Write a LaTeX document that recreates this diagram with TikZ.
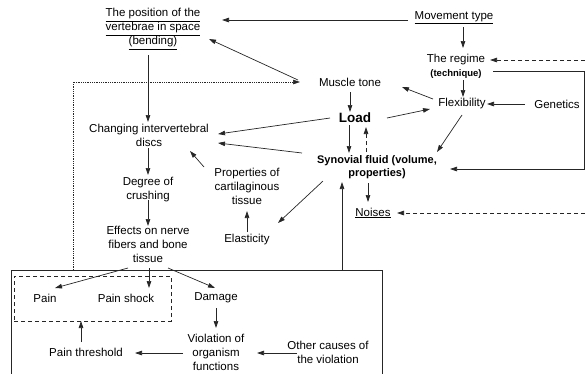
\documentclass[tikz,border=0pt]{standalone}
\usepackage{fontspec}
\setmainfont{Liberation Sans}
\usetikzlibrary{arrows.meta}
\begin{document}
\begin{tikzpicture}[x=1pt,y=-1pt,
  lbl/.style={inner sep=0pt, align=center, font=\fontsize{11.5}{14}\selectfont},
  bold/.style={inner sep=0pt, align=center, font=\fontsize{11}{13.5}\selectfont\bfseries},
  arr/.style={line width=0.7pt, draw=black!85, -{Triangle[length=7pt,width=4.5pt]}},
  ln/.style={line width=0.7pt, draw=black!85},
  dsh/.style={arr, dash pattern=on 4pt off 3pt},
  dot/.style={arr, dash pattern=on 0.8pt off 1pt, line width=0.6pt}]
\useasboundingbox (0,0) rectangle (585,373);
% nodes
\node[lbl] (pos) at (153,29) {\underline{The position of the}\\\underline{vertebrae in space}\\\underline{(bending)}};
\node[lbl] (mov) at (454,18) {\underline{Movement type}};
\node[lbl] (reg) at (456,66) {The regime\\{\fontsize{9.5}{11}\selectfont\bfseries (technique)}};
\node[lbl] (flex) at (462,104) {Flexibility};
\node[lbl] (gen) at (557,104) {Genetics};
\node[lbl] (mt) at (350,82) {Muscle tone};
\node[inner sep=0pt, font=\fontsize{13.5}{15}\selectfont\bfseries] (load) at (355,118) {Load};
\node[bold] (syn) at (377,167) {Synovial fluid (volume,\\properties)};
\node[lbl] (chg) at (149,135) {Changing intervertebral\\discs};
\node[lbl] (deg) at (148,190) {Degree of\\crushing};
\node[lbl] (eff) at (148,244) {Effects on nerve\\fibers and bone\\tissue};
\node[lbl] (prop) at (247,186) {Properties of\\cartilaginous\\tissue};
\node[lbl] (ela) at (247,240) {Elasticity};
\node[lbl] (noi) at (373,213) {\underline{Noises}};
\node[lbl] (pain) at (45,298) {Pain};
\node[lbl] (ps) at (126,298) {Pain shock};
\node[lbl] (dam) at (216,298) {Damage};
\node[lbl] (vio) at (216,352) {Violation of\\organism\\functions};
\node[lbl] (pt) at (86,352) {Pain threshold};
\node[lbl] (oth) at (328,352) {Other causes of\\the violation};
\node[draw=black!85, line width=0.7pt, dash pattern=on 4pt off 3pt, minimum width=157pt, minimum height=45pt, inner sep=0pt] (pbox) at (92.5,298.5) {};
% free ends
\coordinate (boxtl) at (11,270);
\coordinate (boxtr) at (382,270);
\coordinate (boxup) at (342,270);
\coordinate (boxdot) at (73,270);
\coordinate (rinreg) at (585,60);
\coordinate (rinnoi) at (585,213);
% big box
\draw[ln] (11,380) -- (boxtl) -- (boxtr) -- (382,380);
% connectors
\draw[arr] ([shift={(-46,2)}]mov.center) -- ([shift={(69,-9)}]pos.center);
\draw[arr] ([shift={(9,9)}]mov.center) -- ([shift={(7,-18)}]reg.center);
\draw[arr] ([shift={(7,14)}]reg.center) -- ([shift={(1,-7)}]flex.center);
\draw[arr] ([shift={(-32,0)}]gen.center) -- ([shift={(25,0)}]flex.center);
\draw[arr] ([shift={(-29,-5)}]flex.center) -- ([shift={(52,5)}]mt.center);
\draw[arr] ([shift={(32,0)}]load.center) -- ([shift={(-32,5)}]flex.center);
\draw[arr] ([shift={(0,10)}]mt.center) -- ([shift={(-5,-6)}]load.center);
\draw[arr] ([shift={(0,11)}]flex.center) -- ([shift={(60,-15)}]syn.center);
\draw[arr] ([shift={(37,5)}]reg.center) -- ([shift={(128,5)}]reg.center) |- ([shift={(73,2)}]syn.center);
\draw[dsh] (rinreg) -- ([shift={(34,-6)}]reg.center);
\draw[dsh] (rinnoi) -- ([shift={(24,0)}]noi.center);
\draw[arr] ([shift={(-6,7)}]load.center) -- ([shift={(-28,-14)}]syn.center);
\draw[dsh] ([shift={(-11,-15)}]syn.center) -- ([shift={(11,9)}]load.center);
\draw[arr] ([shift={(-9,16)}]syn.center) -- ([shift={(-5,-11)}]noi.center);
\draw[arr] (boxup) -- ([shift={(-35,15)}]syn.center);
\draw[arr] ([shift={(-54,14)}]syn.center) -- ([shift={(31,-17)}]ela.center);
\draw[arr] ([shift={(0,-8)}]ela.center) -- ([shift={(0,25)}]prop.center);
\draw[arr] ([shift={(-43,-19)}]prop.center) -- ([shift={(41,16)}]chg.center);
\draw[arr] ([shift={(-25,0)}]load.center) -- ([shift={(69,-1)}]chg.center);
\draw[arr] ([shift={(-75,-14)}]syn.center) -- ([shift={(69,8)}]chg.center);
\draw[arr] ([shift={(-52,-2)}]mt.center) -- ([shift={(56,10)}]pos.center);
\draw[dot] (boxdot) |- ([shift={(-50,0)}]mt.center);
\draw[arr] ([shift={(-5,26)}]pos.center) -- ([shift={(-1,-13)}]chg.center);
\draw[arr] ([shift={(-1,13)}]chg.center) -- ([shift={(0,-15)}]deg.center);
\draw[arr] ([shift={(0,10)}]deg.center) -- ([shift={(0,-18)}]eff.center);
\draw[arr] ([shift={(-20,24)}]eff.center) -- ([shift={(10,-10)}]pain.center);
\draw[arr] ([shift={(1,24)}]eff.center) -- ([shift={(23,-10)}]ps.center);
\draw[arr] ([shift={(20,24)}]eff.center) -- ([shift={(-1,-10)}]dam.center);
\draw[arr] ([shift={(0,10)}]dam.center) -- ([shift={(0,-24)}]vio.center);
\draw[arr] ([shift={(-33,1)}]vio.center) -- ([shift={(49,1)}]pt.center);
\draw[arr] ([shift={(-5,-10)}]pt.center) -- ([shift={(-11.5,22.5)}]pbox.center);
\draw[arr] ([shift={(-31,1)}]oth.center) -- ([shift={(41,1)}]vio.center);
\end{tikzpicture}
\end{document}
